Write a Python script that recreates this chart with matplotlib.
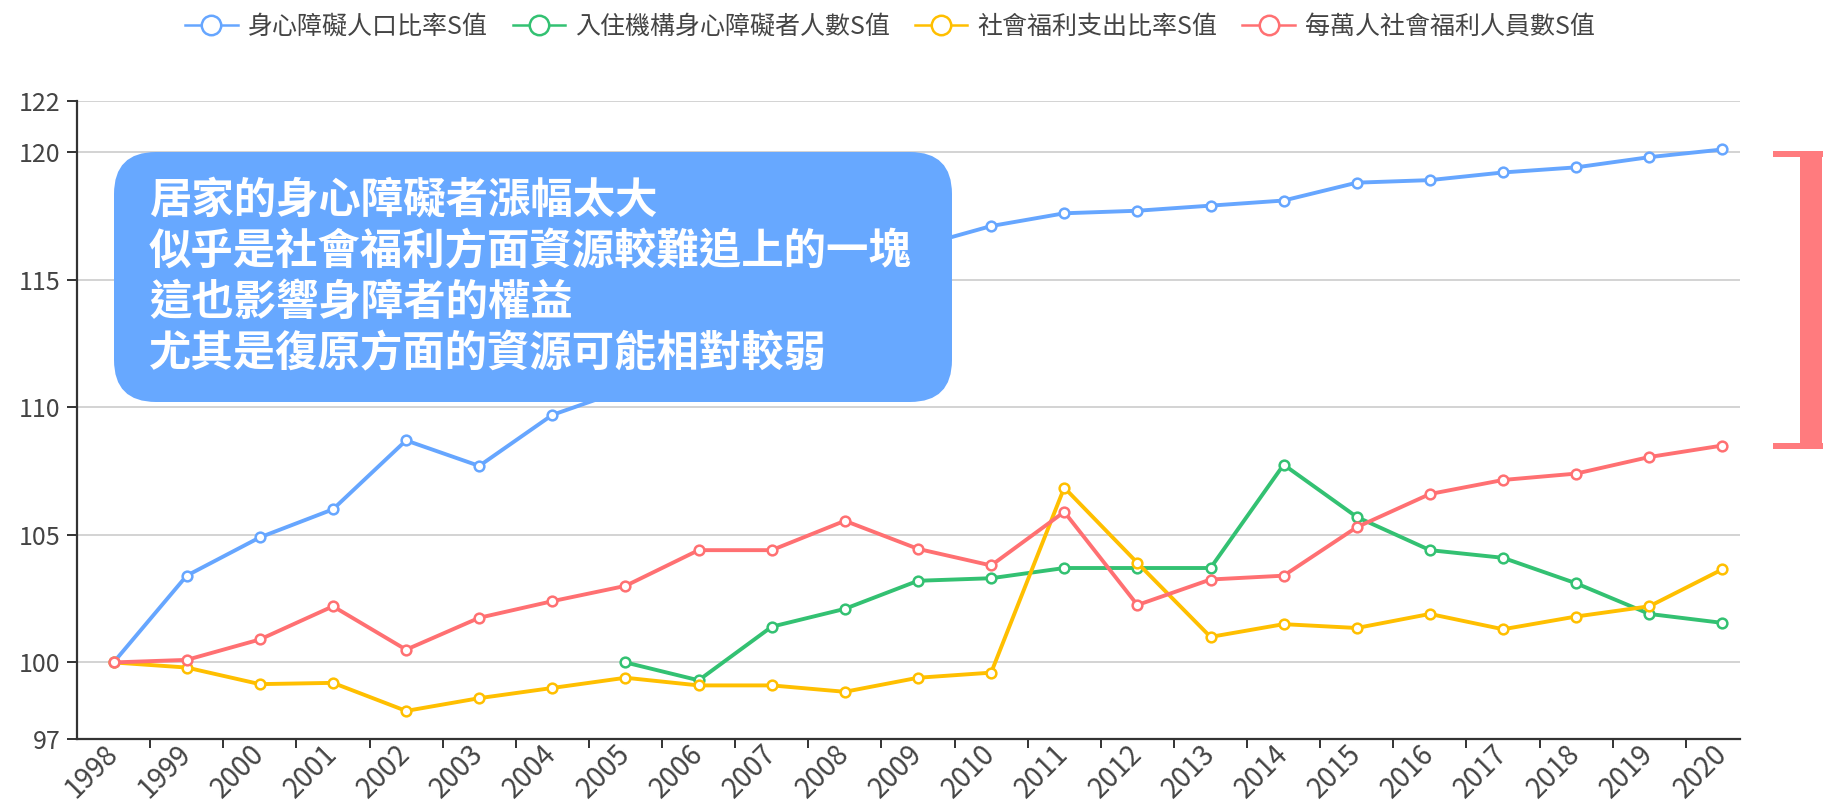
import numpy as np
import matplotlib
matplotlib.use("Agg")
import matplotlib.pyplot as plt
from matplotlib.lines import Line2D
from matplotlib.patches import FancyBboxPatch, Rectangle
from matplotlib.transforms import IdentityTransform

plt.rcParams['font.family'] = ['Noto Sans CJK TC', 'DejaVu Sans']

# ---------------------------------------------------------------- data
years = ["1998", "1999", "2000", "2001", "2002", "2003", "2004", "2005",
         "2006", "2007", "2008", "2009", "2010", "2011", "2012", "2013",
         "2014", "2015", "2016", "2017", "2018", "2019", "2020"]

series_names = ["身心障礙人口比率S值", "入住機構身心障礙者人數S值",
                "社會福利支出比率S值", "每萬人社會福利人員數S值"]

disabled_ratio = [100.0, 103.4, 104.9, 106.0, 108.7, 107.7, 109.7, 110.7,
                  112.3, 113.6, 115.0, 116.3, 117.1, 117.6, 117.7, 117.9,
                  118.1, 118.8, 118.9, 119.2, 119.4, 119.8, 120.1]
institution_cnt = [np.nan] * 7 + [100.0, 99.3, 101.4, 102.1, 103.2, 103.3,
                                  103.7, 103.7, 103.7, 107.75, 105.7, 104.4,
                                  104.1, 103.1, 101.9, 101.55]
welfare_spend = [100.0, 99.8, 99.15, 99.2, 98.1, 98.6, 99.0, 99.4, 99.1,
                 99.1, 98.85, 99.4, 99.6, 106.85, 103.9, 101.0, 101.5,
                 101.35, 101.9, 101.3, 101.8, 102.2, 103.65]
welfare_staff = [100.0, 100.1, 100.9, 102.2, 100.5, 101.75, 102.4, 103.0,
                 104.4, 104.4, 105.55, 104.45, 103.8, 105.9, 102.25, 103.25,
                 103.4, 105.3, 106.6, 107.15, 107.4, 108.05, 108.5]

colors = ["#66a6ff", "#33c172", "#ffbf00", "#ff7072"]

note_lines = ["居家的身心障礙者漲幅太大",
              "似乎是社會福利方面資源較難追上的一塊",
              "這也影響身障者的權益",
              "尤其是復原方面的資源可能相對較弱"]

yticks = [97, 100, 105, 110, 115, 120, 122]

# ---------------------------------------------------------------- figure
W, H = 1824, 802
fig = plt.figure(figsize=(W / 100, H / 100), dpi=100)
ax = fig.add_axes([77 / W, 1 - 739 / H, 1663 / W, 638 / H])

x = np.arange(len(years))
for vals, c in zip([disabled_ratio, institution_cnt, welfare_spend, welfare_staff], colors):
    ax.plot(x, vals, color=c, lw=2.8, marker='o', ms=7, mfc='white',
            mec=c, mew=1.8, zorder=3, clip_on=False)

ax.set_ylim(97, 122)
ax.set_xlim(-0.5, 22.24)
ax.set_yticks(yticks)
ax.grid(axis='y', color='#cccccc', lw=1.2, zorder=0)

ax.set_xticks(x[:-1] + 0.5)
ax.set_xticklabels([])
ax.set_xticks(x, minor=True)
ax.set_xticklabels(years, minor=True, rotation=45, ha='right', va='center',
                   rotation_mode='anchor', fontsize=20, color='#444444')
ax.tick_params(axis='x', which='major', length=6.5, width=1.4, color='#333333')
ax.tick_params(axis='x', which='minor', length=0, pad=7.5)
ax.tick_params(axis='y', length=7, width=1.4, color='#333333', pad=5,
               labelsize=18, labelcolor='#444444')

for s in ['top', 'right']:
    ax.spines[s].set_visible(False)
for s in ['left', 'bottom']:
    ax.spines[s].set_color('#333333')
    ax.spines[s].set_linewidth(1.6)

# legend
handles = [Line2D([], [], color=c, lw=1.8, marker='o', ms=14, mfc='white',
                  mec=c, mew=1.8) for c in colors]
fig.legend(handles, series_names, loc='center', bbox_to_anchor=(890 / W, 1 - 27 / H),
           ncol=4, frameon=False, fontsize=18, handlelength=2.1,
           handletextpad=0.4, columnspacing=1.0, labelcolor='#444444')

# annotation box (pixel coords)
box = FancyBboxPatch((114, H - 402), 838, 250,
                     boxstyle="round,pad=0,rounding_size=42",
                     transform=IdentityTransform(), facecolor='#67a8ff',
                     edgecolor='none', zorder=5)
fig.add_artist(box)
for i, line in enumerate(note_lines):
    fig.text(149 / W, 1 - (201 + 51 * i) / H, line, color='white',
             fontsize=30.5, fontweight='bold', va='center', ha='left', zorder=6)

# red bracket mark on the right edge
red = '#ff7b7e'
for (x0, y0, w, h) in [(1773, 151, 60, 6), (1800, 151, 22, 298), (1773, 443, 60, 6)]:
    fig.add_artist(Rectangle((x0, H - y0 - h), w, h, transform=IdentityTransform(),
                             facecolor=red, edgecolor='none'))

fig.savefig("out.png", dpi=100)
